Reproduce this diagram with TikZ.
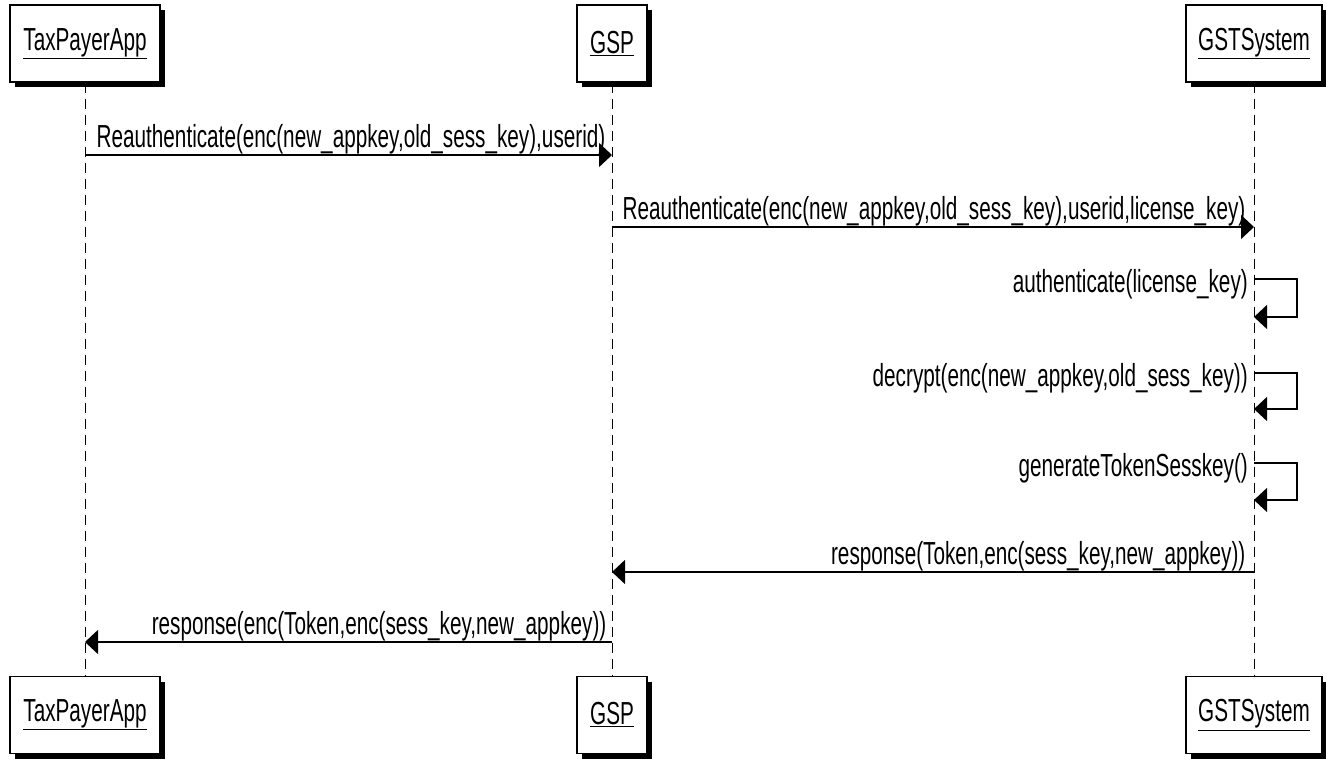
\documentclass[tikz,border=0pt]{standalone}
\usepackage{fontspec}
\setmainfont{Liberation Sans}[FakeStretch=0.65]
\usetikzlibrary{positioning,shadows,arrows.meta,calc}

\begin{document}
\begin{tikzpicture}
	[   x=1bp, y=1bp,
	    every node/.style={font=\fontsize{32}{36}\selectfont},
	    actor/.style={draw=black,fill=white,line width=1.3bp,minimum height=77bp,minimum width=#1,inner sep=0pt,
	        general shadow={fill=black,shadow xshift=5bp,shadow yshift=-5bp}},
	    lifeline/.style={draw,line width=1bp,dash pattern=on 10bp off 6bp},
	]
	\tikzset{msg/.style={draw,line width=1.3bp,-{Triangle[length=13bp,width=24bp]}}}
	\useasboundingbox (0,0) rectangle (1326,-764);
	
	% participants, top and bottom
	\node[actor=150bp] (tpa-top) at (85,-43.5) {\underline{TaxPayerApp}};
	\node[actor=70bp] (gsp-top) at (612,-43.5) {\underline{GSP}};
	\node[actor=136bp] (gst-top) at (1254,-43.5) {\underline{GSTSystem}};
	
	\node[actor=150bp] (tpa-bot) at (85,-715) {\underline{TaxPayerApp}};
	\node[actor=70bp] (gsp-bot) at (612,-715) {\underline{GSP}};
	\node[actor=136bp] (gst-bot) at (1254,-715) {\underline{GSTSystem}};
	
	\foreach \p in {tpa,gsp,gst}
	{
		\path[lifeline] (\p-top.south) -- (\p-bot.north);
	}
	
	% message end points
	\coordinate (m1a) at (tpa-top |- 0,-155);
	\coordinate (m1b) at (gsp-top |- 0,-155);
	\coordinate (m2a) at (gsp-top |- 0,-227);
	\coordinate (m2b) at (gst-top |- 0,-227);
	\coordinate (s1a) at (gst-top |- 0,-279);
	\coordinate (s1b) at (gst-top |- 0,-317);
	\coordinate (s2a) at (gst-top |- 0,-373);
	\coordinate (s2b) at (gst-top |- 0,-409);
	\coordinate (s3a) at (gst-top |- 0,-463);
	\coordinate (s3b) at (gst-top |- 0,-500);
	\coordinate (m6a) at (gst-top |- 0,-572);
	\coordinate (m6b) at (gsp-top |- 0,-572);
	\coordinate (m7a) at (gsp-top |- 0,-642);
	\coordinate (m7b) at (tpa-top |- 0,-642);
	
	\path[msg] (m1a) -- (m1b) node[pos=0,anchor=base west,inner sep=0pt,xshift=11bp,yshift=8bp]
		{Reauthenticate(enc(new\_appkey,old\_sess\_key),userid)};
	\path[msg] (m2a) -- (m2b) node[pos=0,anchor=base west,inner sep=0pt,xshift=10bp,yshift=8bp]
		{Reauthenticate(enc(new\_appkey,old\_sess\_key),userid,license\_key)};
	
	\path[msg] (s1a) -- ++(43,0) |- (s1b);
	\node[anchor=base east,inner sep=0pt] (l-s1) at ($(s1a)+(-6,-13)$) {authenticate(license\_key)};
	\path[msg] (s2a) -- ++(43,0) |- (s2b);
	\node[anchor=base east,inner sep=0pt] (l-s2) at ($(s2a)+(-6,-13)$) {decrypt(enc(new\_appkey,old\_sess\_key))};
	\path[msg] (s3a) -- ++(43,0) |- (s3b);
	\node[anchor=base east,inner sep=0pt] (l-s3) at ($(s3a)+(-6,-13)$) {generateTokenSesskey()};
	
	\path[msg] (m6a) -- (m6b) node[pos=0,anchor=base east,inner sep=0pt,xshift=-8bp,yshift=8bp]
		{response(Token,enc(sess\_key,new\_appkey))};
	\path[msg] (m7a) -- (m7b) node[pos=0,anchor=base east,inner sep=0pt,xshift=-5bp,yshift=8bp]
		{response(enc(Token,enc(sess\_key,new\_appkey))};
\end{tikzpicture}
\end{document}
